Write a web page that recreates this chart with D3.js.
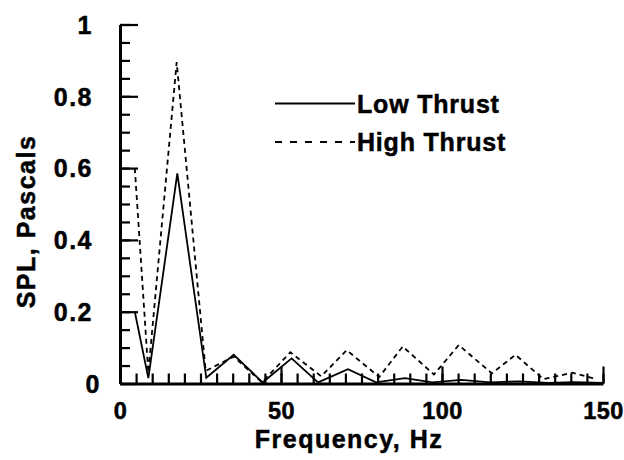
<!DOCTYPE html>
<html>
<head>
<meta charset="utf-8">
<script src="https://cdn.jsdelivr.net/npm/d3@7"></script>
<style>
  body { margin: 0; background: #fff; }
  svg text { font-family: "Liberation Sans", Arial, Helvetica, sans-serif; font-weight: bold; font-size: 25px; letter-spacing: 1.5px; fill: #000; stroke: #000; stroke-width: 0.5px; }
  svg .legend text { letter-spacing: 0.8px; }
  svg .x-axis text { font-size: 23.5px; letter-spacing: 0.5px; }
</style>
</head>
<body>
<svg id="chart" width="624" height="460"></svg>
<script>
// Data (frequency in Hz, SPL in Pascals)
var lowFreq = [4.6, 8.8, 17.8, 26.8, 35.3, 44.3, 53.3, 61.5, 70.8, 79.5, 88.5, 97, 106, 115, 124, 133, 141, 150];
var lowSpl  = [0.2, 0.015, 0.585, 0.016, 0.08, 0.003, 0.07, 0.003, 0.04, 0.003, 0.015, 0.003, 0.01, 0.003, 0.006, 0.002, 0.004, 0.002];

var highFreq = [4.6, 8.8, 17.6, 26.6, 35.3, 44.1, 52.9, 62.5, 70.4, 80.5, 87.8, 97.5, 105.2, 115.5, 122.8, 131.5, 140.5, 148];
var highSpl  = [0.6, 0.03, 0.895, 0.035, 0.075, 0.003, 0.087, 0.02, 0.093, 0.018, 0.103, 0.025, 0.107, 0.028, 0.08, 0.012, 0.03, 0.012];

var xTicks = [0, 50, 100, 150];
var yTicks = [0, 0.2, 0.4, 0.6, 0.8, 1];
var seriesNames = ["Low Thrust", "High Thrust"];

var margin = {left: 120, top: 24.5, right: 21, bottom: 76.5};
var width = 624 - margin.left - margin.right,
    height = 460 - margin.top - margin.bottom;

var svg = d3.select("#chart");
var g = svg.append("g").attr("transform", "translate(" + margin.left + "," + margin.top + ")");

var x = d3.scaleLinear().domain([0, 150]).range([0, width]);
var y = d3.scaleLinear().domain([0, 1]).range([height, 0]);

// minor ticks (inward)
g.append("g")
    .attr("transform", "translate(0," + height + ")")
    .call(d3.axisBottom(x).tickValues(d3.range(0, 151, 5)).tickSize(-10).tickFormat(""))
    .call(function(a) { a.select(".domain").remove(); a.selectAll("line").attr("stroke-width", 2.2); });
g.append("g")
    .call(d3.axisLeft(y).tickValues(d3.range(0, 1.001, 0.05)).tickSize(-10).tickFormat(""))
    .call(function(a) { a.select(".domain").remove(); a.selectAll("line").attr("stroke-width", 2.2); });

// major ticks + labels
var xAxis = g.append("g")
    .attr("class", "x-axis")
    .attr("transform", "translate(0," + height + ")")
    .call(d3.axisBottom(x).tickValues(xTicks).tickSize(-17).tickSizeOuter(0));
xAxis.selectAll("text").attr("y", 35).attr("dy", null);
xAxis.selectAll("line").attr("stroke-width", 2.2);
xAxis.select(".domain").attr("stroke-width", 3);

var yAxis = g.append("g")
    .call(d3.axisLeft(y).tickValues(yTicks).tickSize(-18).tickSizeOuter(0)
        .tickFormat(function(d) { return d3.format("~g")(d); }));
yAxis.selectAll("text").attr("x", -27).attr("dy", "0.35em");
yAxis.selectAll("text").filter(function(d) { return d === 0; }).attr("x", -19);
yAxis.selectAll("line").attr("stroke-width", 2.2);
yAxis.select(".domain").attr("stroke-width", 3);
g.selectAll(".tick text").attr("font-size", null).attr("font-family", null);

// lines
var line = d3.line()
    .x(function(d) { return x(d[0]); })
    .y(function(d) { return y(d[1]); });

g.append("path")
    .datum(d3.zip(lowFreq, lowSpl))
    .attr("fill", "none")
    .attr("stroke", "#000")
    .attr("stroke-width", 1.8)
    .attr("d", line);

g.append("path")
    .datum(d3.zip(highFreq, highSpl))
    .attr("fill", "none")
    .attr("stroke", "#000")
    .attr("stroke-width", 1.8)
    .attr("stroke-dasharray", "5,4")
    .attr("d", line);

// axis titles
svg.append("text")
    .attr("x", 349).attr("y", 448)
    .attr("text-anchor", "middle")
    .text("Frequency, Hz");

svg.append("text")
    .attr("transform", "translate(35,221.5) rotate(-90)")
    .attr("text-anchor", "middle")
    .text("SPL, Pascals");

// legend
var legend = svg.append("g").attr("class", "legend").attr("transform", "translate(275,103.5)");
seriesNames.forEach(function(name, i) {
    var row = legend.append("g").attr("transform", "translate(0," + (i * 38.5) + ")");
    row.append("line")
        .attr("x1", 0).attr("x2", 80)
        .attr("stroke", "#000")
        .attr("stroke-width", 1.8)
        .attr("stroke-dasharray", i === 1 ? "7,8" : null);
    row.append("text")
        .attr("x", 82).attr("y", 9)
        .text(name);
});
</script>
</body>
</html>
